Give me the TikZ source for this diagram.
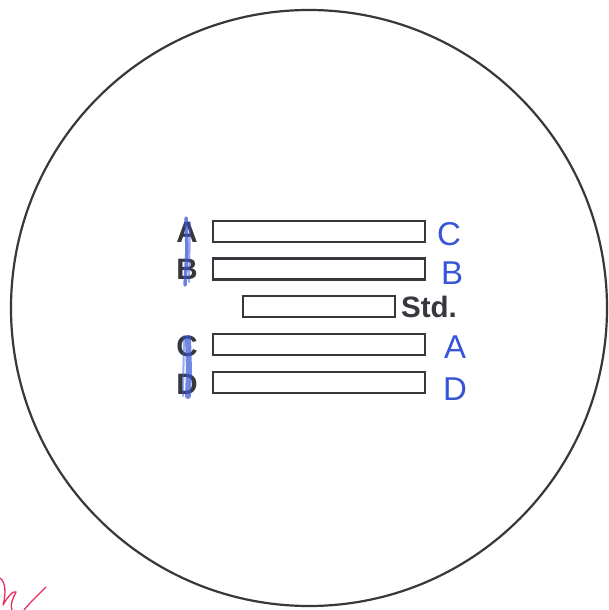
\documentclass[tikz,border=0pt]{standalone}
\usepackage{fontspec}
\setmainfont{Liberation Sans}
\definecolor{ink}{RGB}{55,55,62}
\definecolor{pen}{RGB}{55,85,215}
\definecolor{redpen}{RGB}{235,45,95}
\begin{document}
\begin{tikzpicture}[x=1pt,y=-1pt,
  bar/.style={draw=ink,line width=2.4pt,inner sep=0pt,minimum height=21pt,minimum width=212pt},
  shortbar/.style={bar,minimum width=152pt},
  lab/.style={text=ink,font=\fontsize{29.5}{31}\selectfont\bfseries,inner sep=0pt,anchor=base},
  hand/.style={text=pen,font=\fontsize{33}{35}\selectfont,inner sep=0pt,anchor=base}]
\useasboundingbox (0,0) rectangle (609,610);
\fill[white] (0,0) rectangle (609,610);
% plate
\draw[ink,line width=2.2pt] (309,308) circle[radius=298];
% bars
\node[bar] (ra) at (319,231.5) {};
\node[bar] (rb) at (319,269) {};
\node[shortbar] (rs) at (319,306.5) {};
\node[bar] (rc) at (319,344.5) {};
\node[bar] (rd) at (319,382.5) {};
% printed labels
\node[lab] (la) at (187,242) {A};
\node[lab] (lb) at (187,279) {B};
\node[lab,anchor=base west] (ls) at (401,317) {Std.};
\node[lab] (lc) at (187,356) {C};
\node[lab] (ld) at (187,394) {D};
% blue pen strokes over printed labels
\draw[pen,opacity=0.75,line width=3.5pt,line cap=round] (186,218) -- (187,250) -- (185,285);
\draw[pen,opacity=0.5,line width=2pt,line cap=round] (190,222) -- (189,282);
\draw[pen,opacity=0.7,line width=6pt,line cap=round] (188,338) -- (189,370) -- (188,396);
\draw[pen,opacity=0.5,line width=2pt,line cap=round] (184,336) -- (183,396);
% handwritten labels
\node[hand] (hc) at (449,245) {C};
\node[hand] (hb) at (452,284) {B};
\node[hand] (ha) at (455,358) {A};
\node[hand] (hd) at (455,400) {D};
% red scribble
\draw[redpen,line width=1.3pt,line cap=round,line join=round]
  (46,587) -- (30,603) -- (24,610)
  (0,578) .. controls (6,582) and (6,595) .. (3,605)
  (3,605) .. controls (8,596) and (14,590) .. (16,592)
  (16,592) .. controls (12,600) and (10,606) .. (12,610);
\end{tikzpicture}
\end{document}
